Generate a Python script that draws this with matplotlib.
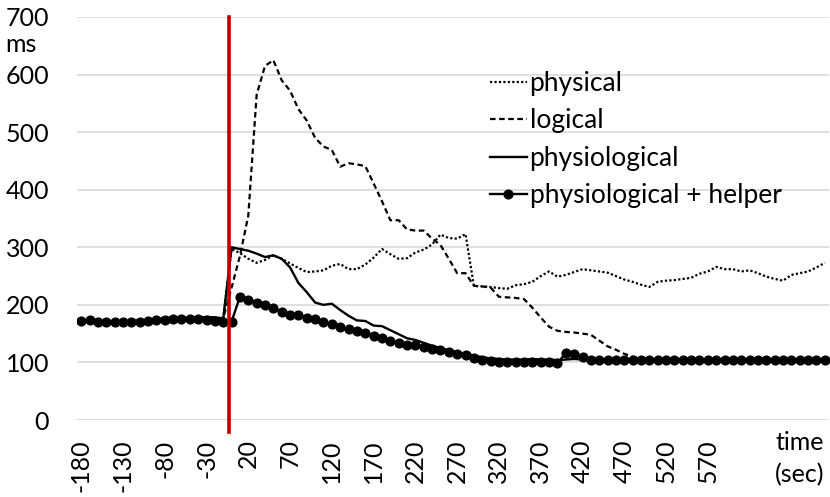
#!/usr/bin/env python3

from matplotlib import pyplot as plt
import numpy as np

plt.rcParams['font.family'] = ['Lato', 'DejaVu Sans']

# time axis (sec), one point every 10 s
time = np.arange(-180, 711, 10)
tick_times = np.arange(-180, 571, 50)

# response time (ms)
physical = [
    172, 172, 171, 171, 171, 171, 172, 173, 174, 175,
    176, 177, 177, 177, 178, 178, 178, 176,
    297, 290, 280, 273, 278, 286, 280, 272, 264, 257,
    258, 260, 268, 271, 262, 262, 270, 282, 297, 288,
    280, 281, 291, 296, 305, 322, 316, 315, 323, 233,
    232, 231, 229, 228, 234, 236, 240, 250, 258, 249,
    252, 257, 262, 260, 258, 256, 250, 244, 240, 235,
    231, 240, 242, 243, 245, 247, 254, 258, 266, 262,
    262, 258, 260, 255, 249, 245, 242, 252, 255, 258,
    265, 273,
]
logical = [
    173, 172, 171, 171, 171, 171, 172, 173, 174, 175,
    177, 178, 178, 177, 178, 179, 178, 177,
    230, 285, 355, 565, 615, 625, 590, 572, 540, 520,
    490, 475, 469, 440, 446, 444, 441, 411, 380, 347,
    347, 331, 329, 329, 315, 304, 280, 255, 255, 233,
    232, 230, 214, 213, 212, 210, 195, 178, 162, 155,
    153, 152, 150, 148, 138, 128, 122, 115, 110, 106,
    105, 105, 105, 105, 105, 105, 105, 105, 105, 105,
    105, 105, 105, 105, 105, 105, 105, 105, 105, 105,
    105, 105,
]
physiological = [
    172, 172, 171, 171, 171, 171, 172, 173, 174, 175,
    177, 178, 178, 177, 178, 179, 178, 176,
    300, 297, 294, 289, 283, 286, 280, 265, 238, 222,
    204, 200, 202, 191, 181, 173, 172, 164, 163, 156,
    149, 142, 139, 134, 129, 125, 121, 118, 115, 112,
    109, 107, 106, 105, 105, 105, 106, 105, 105, 104,
    105, 106, 105, 105, 105, 105, 105, 105, 105, 105,
    105, 105, 105, 105, 105, 105, 105, 105, 105, 105,
    105, 105, 105, 105, 105, 105, 105, 105, 105, 105,
    105, 105,
]
helper = [
    172, 173, 171, 171, 170, 170, 170, 171, 172, 173,
    174, 175, 175, 175, 175, 174, 172, 171,
    171, 214, 209, 204, 200, 194, 188, 183, 182, 177,
    175, 171, 166, 161, 158, 154, 151, 146, 142, 138,
    134, 131, 131, 127, 124, 121, 118, 115, 113, 108,
    105, 102, 100, 100, 100, 100, 100, 100, 100, 99,
    116, 114, 110, 105, 104, 104, 104, 104, 104, 104,
    104, 104, 104, 104, 104, 104, 104, 104, 104, 104,
    104, 104, 104, 104, 104, 104, 104, 104, 104, 104,
    104, 104,
]
event_time = -3

W, H = 830, 497
fig = plt.figure(figsize=(W / 100, H / 100), dpi=100)
ax = fig.add_axes([77 / W, 1 - 420 / H, (829 - 77) / W, (420 - 17) / H])

ax.plot(time, physical, color='black', lw=1.6, linestyle=(0, (1, 1)),
        label='physical', zorder=3)
ax.plot(time, logical, color='black', lw=1.6, linestyle=(0, (2.5, 1.6)),
        label='logical', zorder=3)
ax.plot(time, physiological, color='black', lw=1.7, label='physiological', zorder=4)
ax.plot(time, helper, color='black', lw=1.7, marker='o', markersize=6.3,
        label='physiological + helper', zorder=5)

# 発生時刻
ax.axvline(event_time, ymin=-0.03, ymax=1, color='#c00000', lw=2.6,
           clip_on=False, zorder=6)

ax.set_xlim(-185, 715)
ax.set_ylim(0, 700)
ax.set_yticks(np.arange(0, 701, 100))
ax.set_xticks(tick_times, [str(t) for t in tick_times], rotation=90)
ax.tick_params(length=0, labelsize=18)
ax.tick_params(axis='y', pad=20)
ax.tick_params(axis='x', pad=14)
for s in ax.spines.values():
    s.set_visible(False)
ax.grid(axis='y', color='#d9d9d9', lw=1.2)
ax.set_axisbelow(True)

fig.text(5 / W, 1 - 44 / H, 'ms', fontsize=18, va='center', ha='left')
fig.text(800 / W, 1 - 443 / H, 'time', fontsize=18, va='center', ha='center')
fig.text(800 / W, 1 - 475 / H, '(sec)', fontsize=18, va='center', ha='center')

fig.legend(loc='upper left', bbox_to_anchor=(490 / W, 1 - 71 / H), frameon=False,
           fontsize=19, handlelength=1.4, handletextpad=0.1, labelspacing=0.47,
           borderpad=0, borderaxespad=0)

plt.savefig('out.png', dpi=100)
plt.close()
